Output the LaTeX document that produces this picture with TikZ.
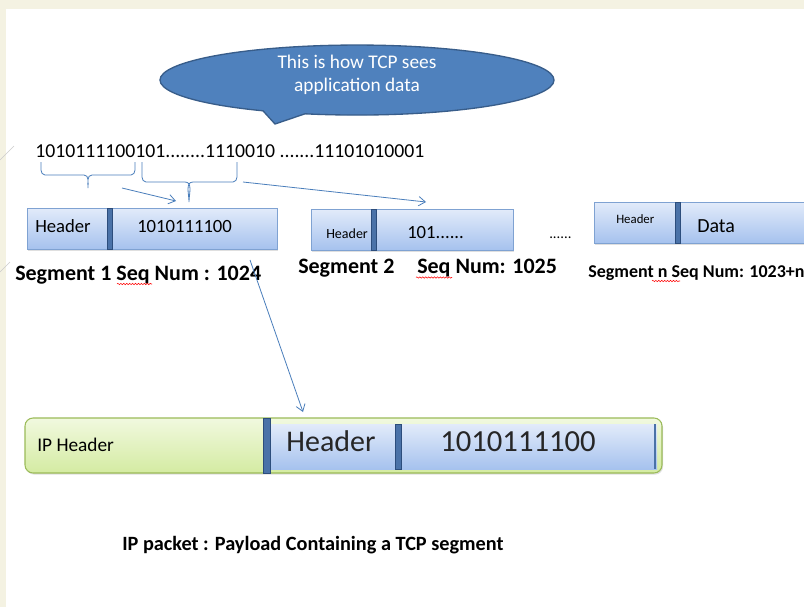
\documentclass[tikz,border=0pt]{standalone}
\usepackage{fontspec}
\setmainfont{Carlito}
\usetikzlibrary{arrows.meta,shadows,decorations.pathmorphing}
\definecolor{cream}{HTML}{F4F2E2}
\definecolor{callfill}{HTML}{4F81BD}
\definecolor{calldraw}{HTML}{385D8A}
\definecolor{linkblue}{HTML}{4A7EBB}
\definecolor{segtop}{HTML}{E2EBFA}
\definecolor{segbot}{HTML}{A6C2EE}
\definecolor{segdraw}{HTML}{7FA2D2}
\definecolor{divfill}{HTML}{4A72A8}
\definecolor{divdraw}{HTML}{2C4D7C}
\definecolor{iptop}{HTML}{F1F9DF}
\definecolor{ipbot}{HTML}{D4EBA2}
\definecolor{ipdraw}{HTML}{9BBB59}
\tikzset{
  segbox/.style={top color=segtop, bottom color=segbot, draw=segdraw, line width=0.6pt,
    drop shadow={opacity=0.25, shadow xshift=0.8pt, shadow yshift=-1.2pt}},
  divbar/.style={fill=divfill, draw=divdraw, line width=0.5pt},
  link/.style={draw=linkblue, line width=0.6pt},
  linkarrow/.style={link, -{Straight Barb[length=5pt,width=7pt]}},
  txt/.style={inner sep=0pt, anchor=base west, text=black},
  lbl/.style={inner sep=0pt, anchor=base west, text=black, font=\bfseries\fontsize{16.5}{18}\selectfont},
  squig/.style={draw=red, line width=0.4pt, decorate, decoration={snake, amplitude=0.5pt, segment length=2.2pt}}
}
\begin{document}
\begin{tikzpicture}[x=0.75pt,y=-0.75pt]
\useasboundingbox (0,0) rectangle (804,607);
\fill[cream] (0,0) rectangle (804,607);
\fill[white] (6,9) rectangle (804,607);
\draw[gray!40, line width=0.4pt] (0,160) -- (14,146);
\draw[gray!40, line width=0.4pt] (0,272) -- (10,262);

% callout
\filldraw[fill=callfill, draw=calldraw, line width=1pt]
  (263,110.8) arc[start angle=118.5, end angle=465.3, x radius=197, y radius=35]
  -- (275,124) -- cycle;
\node[align=center, text=white, inner sep=0pt, font=\fontsize{14.5}{17.25}\selectfont] (call) at (357,75)
  {This is how TCP sees\\application data};

% bit string
\node[txt, font=\fontsize{14.8}{17}\selectfont] (bits) at (35,157)
  {1010111100101........1110010 .......11101010001};

% braces
\draw[link] (41,162) -- (41,170) to[out=-90,in=180] (45,175) -- (84,175)
  to[out=0,in=90] (88,188) to[out=90,in=180] (92,175) -- (131,175)
  to[out=0,in=-90] (135,170) -- (135,162);
\draw[link] (142,162) -- (142,177) to[out=-90,in=180] (146,182) -- (185,182)
  to[out=0,in=90] (189,202) to[out=90,in=180] (193,182) -- (233,182)
  to[out=0,in=-90] (237,177) -- (237,162);
\coordinate (a1s) at (122,188); \coordinate (a1e) at (176,201);
\coordinate (a2s) at (243,182); \coordinate (a2e) at (426,202);
\draw[linkarrow] (a1s) -- (a1e);
\draw[linkarrow] (a2s) -- (a2e);

% segment 1
\path[segbox] (27,208) rectangle (277,249);
\filldraw[divbar] (107,208) rectangle (112,249);
\node[txt, font=\fontsize{14}{16}\selectfont] (h1) at (35,232) {Header};
\node[txt, font=\fontsize{14}{16}\selectfont] (d1) at (137,232) {1010111100};

% segment 2
\path[segbox] (311,209) rectangle (513,250);
\filldraw[divbar] (371,209) rectangle (376,250);
\node[txt, font=\fontsize{10.5}{12}\selectfont] (h2) at (326,238) {Header};
\node[txt, font=\fontsize{14}{16}\selectfont] (d2) at (407,238) {101......};

\node[txt, font=\fontsize{11}{13}\selectfont] (dots) at (549,238) {......};

% segment n
\path[segbox] (594,202) rectangle (812,243);
\filldraw[divbar] (675,202) rectangle (680,243);
\node[txt, font=\fontsize{9.6}{11}\selectfont] (hn) at (616,223) {Header};
\node[txt, font=\fontsize{15}{17}\selectfont] (dn) at (697,232) {Data};

% labels
\node[lbl] (l1) at (15,280) {Segment 1 Seq Num : 1024};
\node[lbl] (l2) at (298,273) {Segment 2};
\node[lbl] (l2b) at (417,273) {Seq Num: 1025};
\node[lbl, font=\bfseries\fontsize{13.5}{15}\selectfont] (ln) at (588,277) {Segment n Seq Num: 1023+n};
\draw[squig] (117,284) -- (152,284);
\draw[squig] (416,277.5) -- (452,277.5);
\draw[squig] (652,281) -- (680,281);

% arrow to IP packet
\coordinate (a3s) at (250,260); \coordinate (a3e) at (303,412);
\draw[linkarrow] (a3s) -- (a3e);

% IP packet
\path[top color=iptop, bottom color=ipbot, draw=ipdraw, line width=0.8pt, rounded corners=6pt,
  drop shadow={opacity=0.25, shadow xshift=0.8pt, shadow yshift=-1.2pt}] (25,418) rectangle (662,473);
\path[top color=segtop, bottom color=segbot] (270,424) rectangle (657,469);
\filldraw[divbar] (263,418) rectangle (270,473);
\filldraw[divbar] (395,424) rectangle (401,469);
\fill[divfill] (654,424) rectangle (656,469);
\node[txt, font=\fontsize{14.5}{16}\selectfont] (iph) at (37,451) {IP Header};
\node[anchor=base, inner sep=0pt, text=black!85, font=\fontsize{22.5}{24}\selectfont] (iph2) at (331,451) {Header};
\node[anchor=base, inner sep=0pt, text=black!85, font=\fontsize{23}{25}\selectfont] (ipd) at (518,451) {1010111100};

% caption
\node[txt, font=\bfseries\fontsize{15.2}{17}\selectfont] (cap) at (122,550) {IP packet : Payload Containing a TCP segment};
\end{tikzpicture}
\end{document}
